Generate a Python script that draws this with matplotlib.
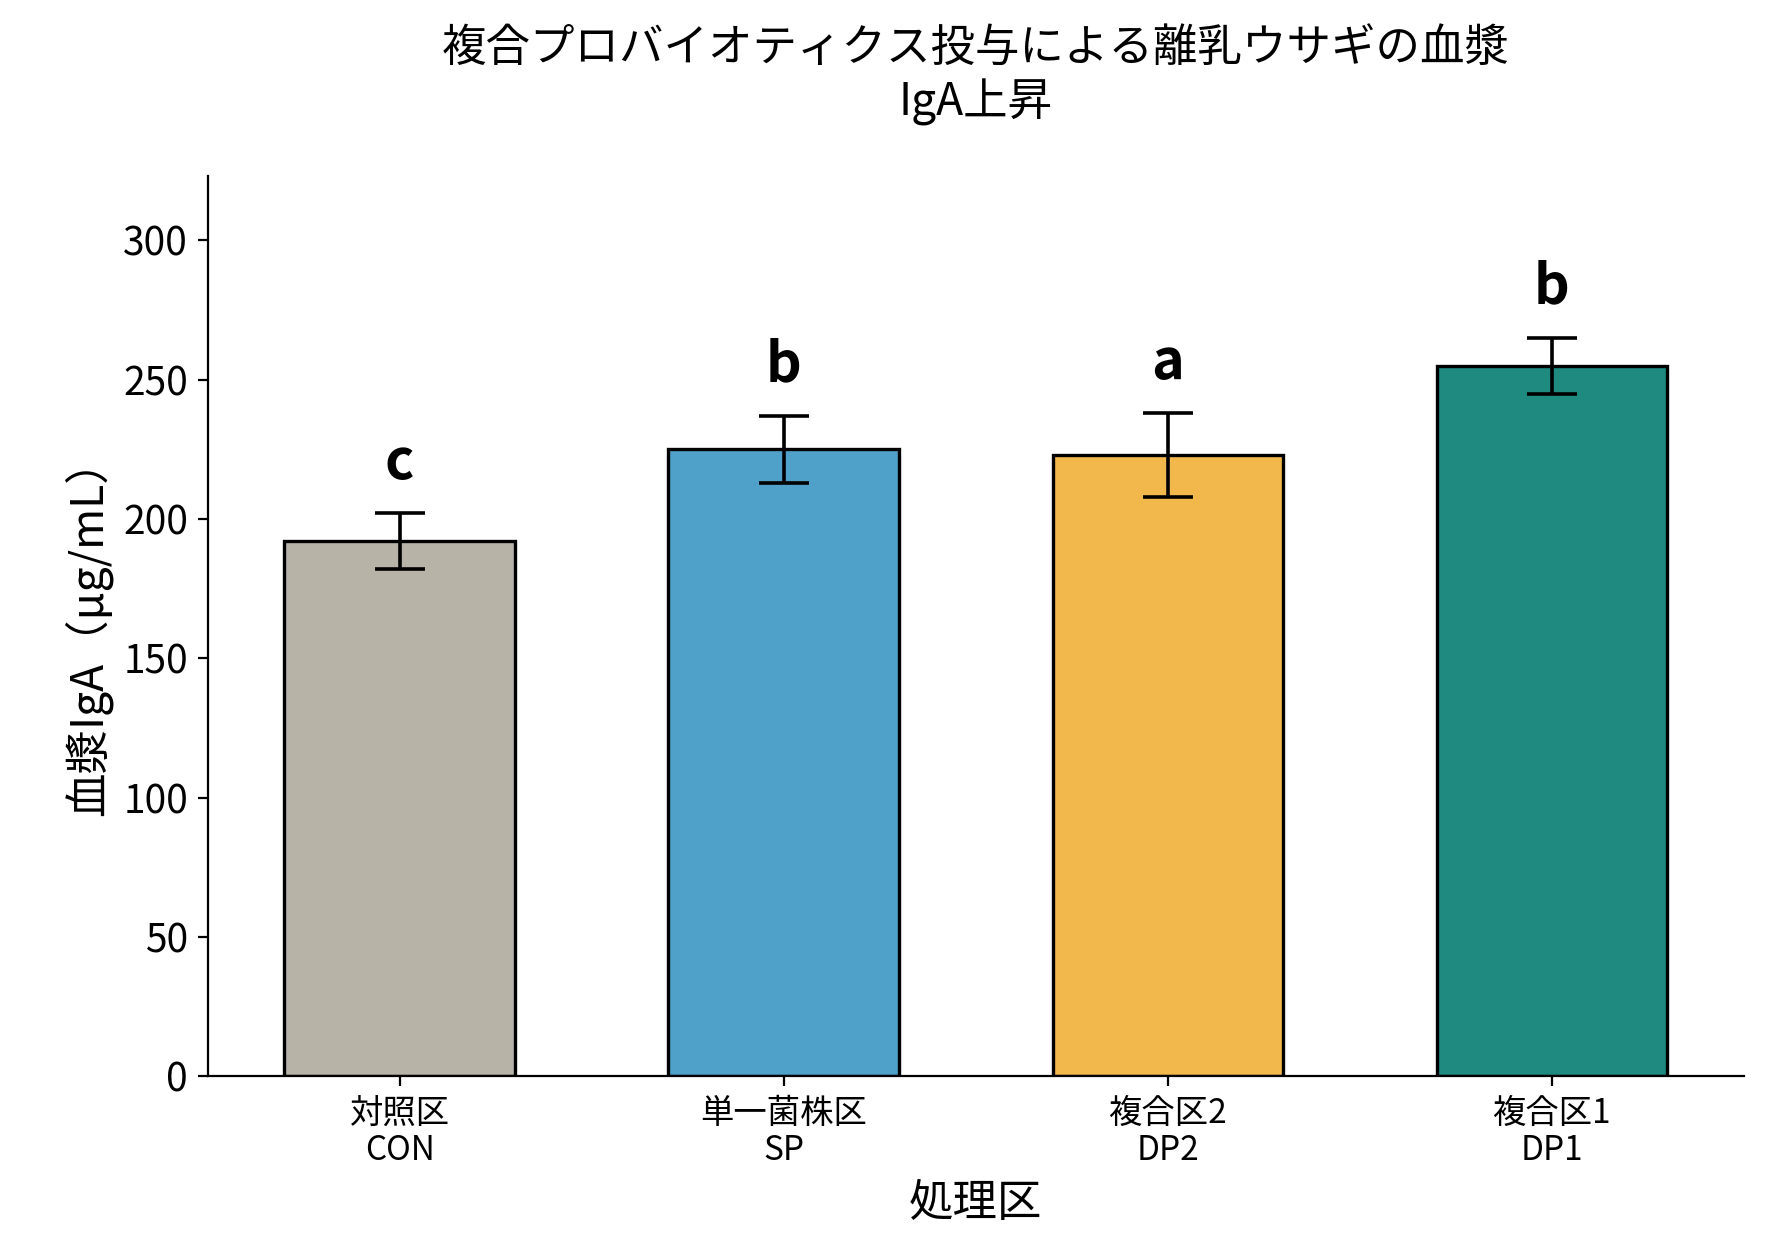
import matplotlib
matplotlib.use("Agg")
import matplotlib.pyplot as plt

plt.rcParams['font.family'] = ['Noto Sans CJK JP', 'DejaVu Sans']

categories = ["対照区\nCON", "単一菌株区\nSP", "複合区2\nDP2", "複合区1\nDP1"]
values = [192, 225, 223, 255]
errors = [10, 12, 15, 10]
letters = ["c", "b", "a", "b"]
colors = ["#b7b3a7", "#4fa1c9", "#f2b84b", "#1f8a80"]

fig = plt.figure(figsize=(8.87, 6.25), dpi=200)
ax = fig.add_axes([0.117, 0.139, 0.866, 0.72])
x = range(len(categories))
ax.bar(x, values, width=0.6, color=colors, edgecolor="black", linewidth=1.2,
       yerr=errors, capsize=9, error_kw=dict(elinewidth=1.3, capthick=1.3))
for i, (v, e, l) in enumerate(zip(values, errors, letters)):
    ax.text(i, v + e + 8, l, ha="center", va="bottom", fontsize=20, fontweight="bold")
ax.set_xticks(list(x))
ax.set_xticklabels(categories, fontsize=12, linespacing=1.1)
ax.set_ylim(0, 323)
ax.set_xlim(-0.5, 3.5)
ax.set_yticks(range(0, 301, 50))
ax.tick_params(axis='y', labelsize=14)
ax.set_ylabel("血漿IgA（μg/mL）", fontsize=16)
ax.set_xlabel("処理区", fontsize=16)
ax.set_title("複合プロバイオティクス投与による離乳ウサギの血漿\nIgA上昇", fontsize=16, pad=22)
for s in ["top", "right"]:
    ax.spines[s].set_visible(False)
fig.savefig("out.png", dpi=200)
